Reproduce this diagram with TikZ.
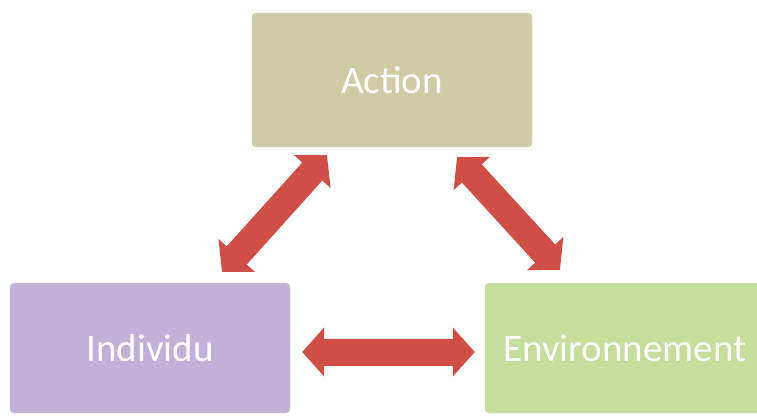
\documentclass[tikz,border=0pt]{standalone}
\usepackage{fontspec}
\setmainfont{Carlito}
\usepackage{xcolor}
\usetikzlibrary{arrows.meta, positioning, calc}
\definecolor{actionkhaki}{HTML}{CFCBA6}
\definecolor{indivlilac}{HTML}{C1B1D9}
\definecolor{envgreen}{HTML}{C6DE9C}
\definecolor{arrowred}{HTML}{CF4F47}

\begin{document}
\begin{tikzpicture}[x=1pt, y=-1pt,
  box/.style={rectangle, rounded corners=4pt, minimum width=280pt, minimum height=134pt, inner sep=0pt, text=white, font=\fontsize{39}{42}\selectfont},
  dblarrow/.style={line width=27pt, draw=arrowred, {Triangle[length=22pt, width=48pt]}-{Triangle[length=22pt, width=48pt]}}
]
  \clip (0,0) rectangle (757,417);
  \fill[white] (0,0) rectangle (757,417);

  % Boxes
  \node[box, fill=actionkhaki, draw=actionkhaki!70!white] (action) at (392, 80) {Action};
  \node[box, fill=indivlilac, draw=indivlilac!70!white, minimum height=130pt] (individu) at (150, 348) {Individu};
  \node[box, fill=envgreen, draw=envgreen!70!white, minimum height=130pt] (environ) at (625, 348) {Environnement};

  % Arrows
  \draw[dblarrow] ([xshift=72pt, yshift=11pt]individu.north) -- ([xshift=-65pt, yshift=-8pt]action.south);
  \draw[dblarrow] ([xshift=65pt, yshift=-10pt]action.south) -- ([xshift=-65pt, yshift=13pt]environ.north);
  \draw[dblarrow] ([xshift=12pt, yshift=-4pt]individu.east) -- ([xshift=-10pt, yshift=-4pt]environ.west);
\end{tikzpicture}
\end{document}
